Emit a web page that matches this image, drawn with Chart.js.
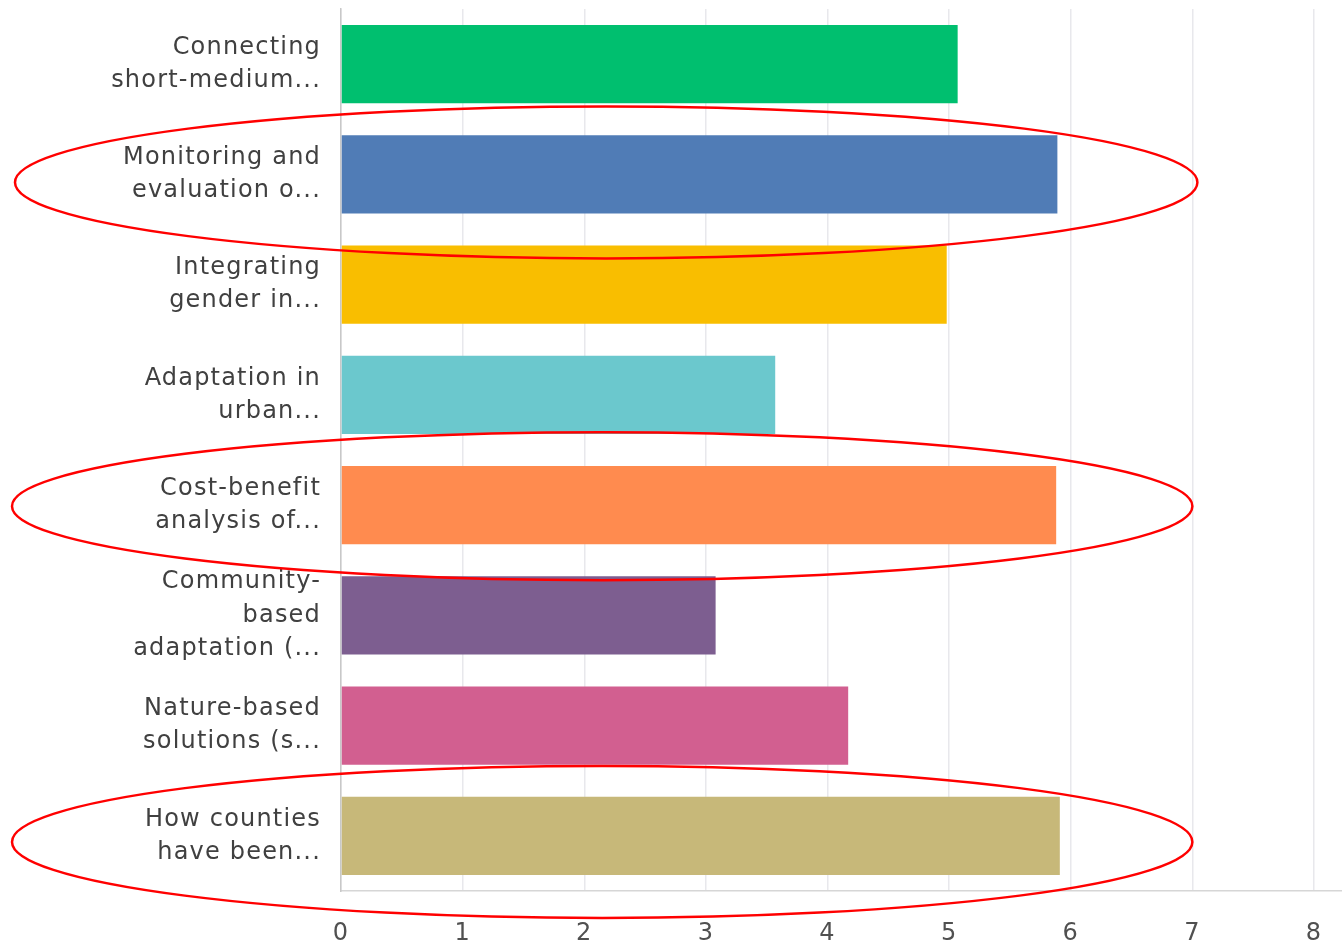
<!DOCTYPE html>
<html>
<head>
<meta charset="utf-8">
<script src="https://cdn.jsdelivr.net/npm/chart.js@4"></script>
<style>
html,body{margin:0;padding:0;background:#fff;}
#wrap{width:1342px;height:951px;position:relative;}
</style>
</head>
<body>
<div id="wrap"><canvas id="c"></canvas></div>
<script>
const categories = [
  ["Connecting", "short-medium..."],
  ["Monitoring and", "evaluation o..."],
  ["Integrating", "gender in..."],
  ["Adaptation in", "urban..."],
  ["Cost-benefit", "analysis of..."],
  ["Community-", "based", "adaptation (..."],
  ["Nature-based", "solutions (s..."],
  ["How counties", "have been..."]
];
const values = [5.07, 5.89, 4.98, 3.57, 5.88, 3.08, 4.17, 5.91];
const barColors = ["#00BF6F", "#507CB6", "#F9BE00", "#6BC8CD", "#FF8B4F", "#7D5E90", "#D25F90", "#C7B879"];
const xTicks = [0, 1, 2, 3, 4, 5, 6, 7, 8];
const highlighted = [1, 4, 7];

const spacingPlugin = {
  id: 'spacing',
  beforeDraw(chart) { chart.ctx.letterSpacing = '1.2px'; },
  afterDatasetsDraw(chart) { chart.ctx.letterSpacing = '1.2px'; }
};

// hand-drawn highlight ellipses around selected categories
const ellipseStyle = [
  { dy: 8, ry: 76, left: 15, rightOffset: 5 },
  { dy: 1, ry: 74, left: 12, rightOffset: 0 },
  { dy: 6, ry: 76, left: 12, rightOffset: 0 }
];

const ellipsePlugin = {
  id: 'ellipses',
  afterDraw(chart) {
    const ctx = chart.ctx;
    const xs = chart.scales.x, ys = chart.scales.y;
    ctx.save();
    ctx.strokeStyle = '#FF0000';
    ctx.lineWidth = 2.5;
    highlighted.forEach((i, k) => {
      const s = ellipseStyle[k];
      const right = xs.getPixelForValue(7) + s.rightOffset;
      const cy = ys.getPixelForValue(i) + s.dy;
      const cx = (s.left + right) / 2;
      const rx = (right - s.left) / 2;
      ctx.beginPath();
      ctx.ellipse(cx, cy, rx, s.ry, 0, 0, Math.PI * 2);
      ctx.stroke();
    });
    ctx.restore();
  }
};

new Chart(document.getElementById('c'), {
  type: 'bar',
  data: {
    labels: categories,
    datasets: [{
      data: values,
      backgroundColor: barColors,
      borderWidth: 0,
      barPercentage: 0.71,
      categoryPercentage: 1.0
    }]
  },
  options: {
    indexAxis: 'y',
    responsive: true,
    maintainAspectRatio: false,
    animation: false,
    layout: { padding: { top: 9, right: 0, left: 0, bottom: 0 } },
    plugins: { legend: { display: false }, tooltip: { enabled: false } },
    scales: {
      x: {
        min: 0,
        max: 8.23,
        afterBuildTicks(scale) { scale.ticks = xTicks.map(v => ({ value: v })); },
        afterFit(scale) { scale.height = 60; scale.paddingLeft = 0; scale.paddingRight = 0; },
        grid: { color: '#e8e8ec', lineWidth: 1.5, drawTicks: false },
        border: { color: '#d6d6d6', width: 1.5 },
        ticks: {
          color: '#505050',
          padding: 28,
          font: { family: 'DejaVu Sans', size: 24 }
        }
      },
      y: {
        afterFit(scale) { scale.width = 341; scale.paddingTop = 0; scale.paddingBottom = 0; },
        grid: { display: false, drawTicks: false },
        border: { color: '#c8c8c8', width: 1.5 },
        ticks: {
          color: '#404040',
          padding: 20,
          font: { family: 'DejaVu Sans', size: 24, lineHeight: 1.38 }
        }
      }
    }
  },
  plugins: [spacingPlugin, ellipsePlugin]
});
</script>
</body>
</html>
